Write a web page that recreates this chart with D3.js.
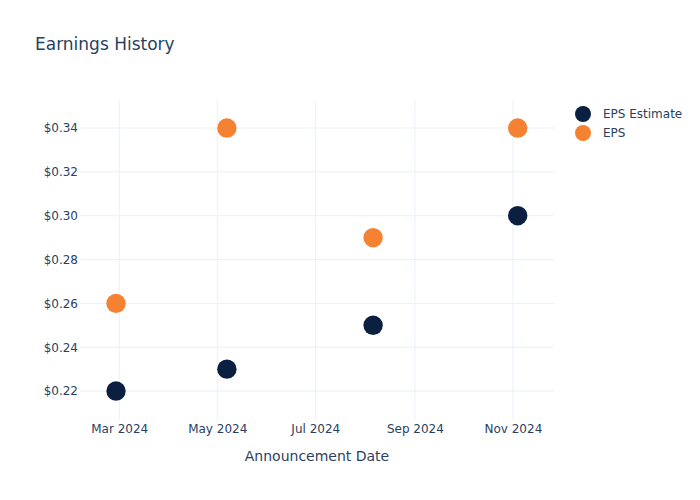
<!DOCTYPE html>
<html><head><meta charset="utf-8">
<script src="https://cdn.jsdelivr.net/npm/d3@7"></script>
<style>body{margin:0;background:#fff}text{font-family:"DejaVu Sans",sans-serif}</style>
</head><body><svg id="c" width="700" height="500"></svg>
<script>
const dates = ["2024-02-28","2024-05-07","2024-08-06","2024-11-04"];
const epsEstimate = [0.22,0.23,0.25,0.30];
const eps = [0.26,0.34,0.29,0.34];
const seriesNames = ["EPS Estimate","EPS"];
const seriesColors = ["#0b1f41","#f58233"];
const xTicks = ["2024-03-01","2024-05-01","2024-07-01","2024-09-01","2024-11-01"];
const yTicks = [0.22,0.24,0.26,0.28,0.30,0.32,0.34];

const svg = d3.select("#c");
const W=700,H=500,m={l:80,r:146,t:100,b:80};
const parse = d3.utcParse("%Y-%m-%d");
const x = d3.scaleUtc().domain([new Date(Date.UTC(2024,1,5,14)),new Date(Date.UTC(2024,10,26,14))]).range([m.l,W-m.r]);
const y = d3.scaleLinear().domain([0.2068,0.3528]).range([H-m.b,m.t]);
const txt="#2a3f5f", grid="#ebf0f8";

const g = svg.append("g");
g.selectAll(".gx").data(xTicks).join("line").attr("x1",d=>x(parse(d))).attr("x2",d=>x(parse(d)))
 .attr("y1",m.t).attr("y2",H-m.b).attr("stroke",grid).attr("stroke-width",1);
g.selectAll(".gy").data(yTicks).join("line").attr("y1",d=>y(d)).attr("y2",d=>y(d))
 .attr("x1",m.l).attr("x2",W-m.r).attr("stroke",grid).attr("stroke-width",1);

const xa = svg.append("g").attr("transform",`translate(0,${H-m.b})`)
 .call(d3.axisBottom(x).tickValues(xTicks.map(parse)).tickFormat(d3.utcFormat("%b %Y")).tickSize(0).tickPadding(4));
xa.select(".domain").remove();
xa.selectAll("text").attr("fill",txt).style("font-size","12px");
const ya = svg.append("g").attr("transform",`translate(${m.l},0)`)
 .call(d3.axisLeft(y).tickValues(yTicks).tickFormat(d=>"$"+d3.format(".2f")(d)).tickSize(0).tickPadding(2));
ya.select(".domain").remove();
ya.selectAll("text").attr("fill",txt).style("font-size","12px");

const series=[epsEstimate,eps];
series.forEach((s,i)=>{
  svg.append("g").selectAll("circle").data(s).join("circle")
   .attr("cx",(d,j)=>x(parse(dates[j]))).attr("cy",d=>y(d)).attr("r",9.7)
   .attr("fill",seriesColors[i]);
});

svg.append("text").attr("x",35).attr("y",50).text("Earnings History").attr("fill",txt).style("font-size","17px");
svg.append("text").attr("x",(m.l+W-m.r)/2).attr("y",461).attr("text-anchor","middle")
 .text("Announcement Date").attr("fill",txt).style("font-size","14px");

const lg = svg.append("g");
seriesNames.forEach((n,i)=>{
  lg.append("circle").attr("cx",583).attr("cy",114+i*19).attr("r",8).attr("fill",seriesColors[i]);
  lg.append("text").attr("x",603).attr("y",118+i*19).text(n).attr("fill",txt).style("font-size","12px");
});
</script></body></html>
